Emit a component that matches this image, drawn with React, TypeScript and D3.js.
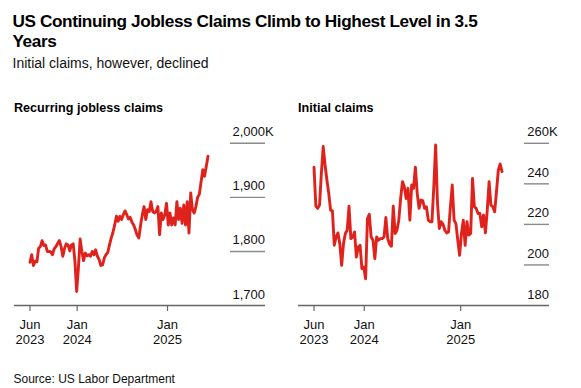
import React from "react"
import * as d3 from "d3"

// weekly data, first week ending Jun 24 2023
const firstWeek = new Date(2023, 5, 24)

// recurring (continuing) claims, thousands
const continuingClaims = [
	1780, 1794, 1774, 1782, 1781, 1806, 1809, 1820, 1811, 1812, 1800, 1800, 1799, 1794,
	1805, 1809, 1815, 1820, 1809, 1791, 1806, 1814, 1812, 1801, 1812, 1814, 1782, 1726,
	1769, 1823, 1800, 1783, 1797, 1792, 1794, 1791, 1800, 1794, 1803, 1791, 1785, 1774,
	1775, 1788, 1794, 1798, 1812, 1825, 1835, 1849, 1865, 1856, 1865, 1859, 1868, 1875,
	1868, 1860, 1863, 1854, 1849, 1840, 1830, 1825, 1849, 1868, 1883, 1859, 1877, 1874,
	1892, 1874, 1871, 1874, 1883, 1831, 1871, 1859, 1868, 1889, 1849, 1871, 1849, 1862,
	1849, 1892, 1859, 1880, 1852, 1886, 1849, 1892, 1834, 1908, 1877, 1871, 1883, 1900,
	1906, 1929, 1951, 1939, 1957, 1976,
]

// initial claims, thousands
const initialClaims = [
	248.2, 229, 227.9, 229.5, 245.2, 258.4, 249.3, 241.9, 235.3, 227, 226.7, 209.7, 213.8,
	215.8, 210.5, 199.8, 210.5, 215.5, 217.1, 229, 213, 213.8, 216.3, 203.9, 208.9, 209.7,
	198.2, 199, 193.2, 222.9, 225, 213.8, 212.2, 203.1, 213.8, 212.2, 213, 213, 213.8,
	223.4, 213, 210.2, 209.2, 229, 215.5, 217.1, 222.1, 232.8, 241.1, 238.6, 232.8, 237.8,
	222.1, 239.4, 237.8, 248.2, 235.3, 227.9, 232, 231.7, 227.9, 228.7, 222.1, 221.3,
	221.3, 238.6, 259.2, 230.3, 218, 221.3, 220.1, 217.1, 215.8, 216.3, 228.7, 239.4,
	222.1, 220.4, 212.2, 204.8, 215.5, 222.1, 209.7, 221.3, 214.7, 215.5, 242.7, 228.7,
	227.9, 225.4, 225.4, 218.8, 224.6, 215.8, 227, 241.1, 229.5, 228.7, 226.2, 236.1,
	246.8, 249.8, 246,
]

const continuingTicks = [1700, 1800, 1900, 2000]
const initialTicks = [180, 200, 220, 240, 260]

const xTicks = [
	{ date: firstWeek, month: "Jun", year: "2023" },
	{ date: new Date(2024, 0, 1), month: "Jan", year: "2024" },
	{ date: new Date(2025, 0, 1), month: "Jan", year: "2025" },
]

const font = "'Liberation Sans', Arial, sans-serif"
const red = "#e0221c"
const axisGray = "#666"

const baseY = 305.5
const topY = 143.3

const Panel = ({ title, values, ticks, x0, x1, labelW }) => {
	const dates = values.map((_, i) => d3.timeWeek.offset(firstWeek, i))
	const x = d3
		.scaleTime()
		.domain([dates[0], dates[dates.length - 1]])
		.range([x0 + 16, x1 - labelW - 22])
	const y = d3
		.scaleLinear()
		.domain([ticks[0], ticks[ticks.length - 1]])
		.range([baseY, topY])

	const line = d3
		.line()
		.x((d, i) => x(dates[i]))
		.y(d => y(d))

	const fmt = d3.format(",")

	return (
		<g>
			<text x={x0} y={111.7} fontFamily={font} fontWeight="bold" fontSize={12.6} fill="#000">
				{title}
			</text>

			{/* grid stubs at the right */}
			{ticks.slice(1).map(t => (
				<line
					key={t}
					x1={x1 - labelW}
					x2={x1}
					y1={y(t)}
					y2={y(t)}
					stroke="#8a8a8a"
					strokeWidth={1.4}
				/>
			))}
			{ticks.map((t, i) => (
				<g key={"l" + t}>
					<text
						x={x1}
						y={y(t) - 7}
						textAnchor="end"
						fontFamily={font}
						fontSize={13}
						fill="#111"
					>
						{fmt(t)}
					</text>
					{i === ticks.length - 1 && (
						<text x={x1} y={y(t) - 7} fontFamily={font} fontSize={13} fill="#111">
							K
						</text>
					)}
				</g>
			))}

			<path
				d={line(values)}
				fill="none"
				stroke={red}
				strokeWidth={2.9}
				strokeLinejoin="round"
				strokeLinecap="round"
			/>

			{/* bottom axis */}
			<line x1={x0} x2={x1} y1={baseY} y2={baseY} stroke={axisGray} strokeWidth={1.4} />
			{xTicks.map(t => (
				<g key={t.year + t.month} transform={`translate(${x(t.date)},0)`}>
					<line y1={baseY} y2={baseY + 5.5} stroke={axisGray} strokeWidth={1.2} />
					<text y={328.5} textAnchor="middle" fontFamily={font} fontSize={13} fill="#111">
						{t.month}
					</text>
					<text y={343.5} textAnchor="middle" fontFamily={font} fontSize={13} fill="#111">
						{t.year}
					</text>
				</g>
			))}
		</g>
	)
}

export default function App() {
	return (
		<svg
			width={581}
			height={388}
			style={{ position: "absolute", left: 0, top: 0, background: "#fff" }}
		>
			<text x={12.5} y={26.7} fontFamily={font} fontWeight="bold" fontSize={17.2} letterSpacing={-0.4} fill="#000">
				US Continuing Jobless Claims Climb to Highest Level in 3.5
			</text>
			<text x={12.5} y={46.7} fontFamily={font} fontWeight="bold" fontSize={17.2} letterSpacing={-0.4} fill="#000">
				Years
			</text>
			<text x={12.5} y={68.3} fontFamily={font} fontSize={14} fill="#111">
				Initial claims, however, declined
			</text>

			<Panel
				title="Recurring jobless claims"
				values={continuingClaims}
				ticks={continuingTicks}
				x0={14}
				x1={265}
				labelW={35}
			/>
			<Panel
				title="Initial claims"
				values={initialClaims}
				ticks={initialTicks}
				x0={298}
				x1={549}
				labelW={25}
			/>

			<text x={13.5} y={383.3} fontFamily={font} fontSize={12} fill="#111">
				Source: US Labor Department
			</text>
		</svg>
	)
}
